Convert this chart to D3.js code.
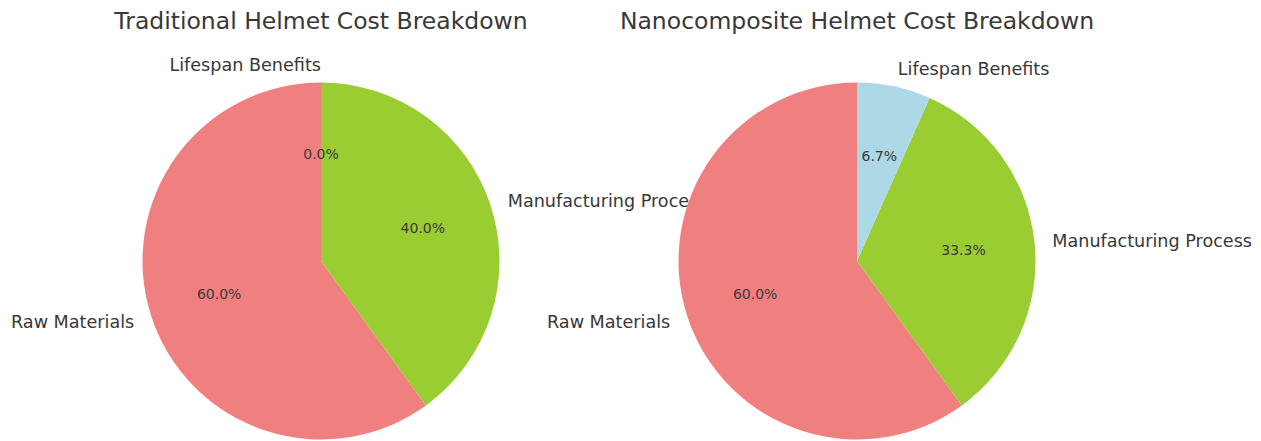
<!DOCTYPE html>
<html>
<head>
<meta charset="utf-8">
<script src="https://cdn.jsdelivr.net/npm/d3@7"></script>
<style>
  html, body { margin: 0; padding: 0; background: #ffffff; }
  svg { display: block; }
  text { font-family: "DejaVu Sans", sans-serif; fill: #383838; }
</style>
</head>
<body>
<svg id="chart" width="1261" height="441"></svg>
<script>
const categories = ["Raw Materials", "Manufacturing Process", "Lifespan Benefits"];
const traditionalValues = [60, 40, 0];
const nanocompositeValues = [90, 50, 10];
const chartTitles = ["Traditional Helmet Cost Breakdown", "Nanocomposite Helmet Cost Breakdown"];
const sliceColors = ["#F08080", "#9ACD32", "#ADD8E6"];

const W = 1261, H = 441;
const svg = d3.select("#chart");
svg.append("rect").attr("width", W).attr("height", H).attr("fill", "#ffffff");

const panels = [
  { title: chartTitles[0], values: traditionalValues, cx: 321, cy: 261 },
  { title: chartTitles[1], values: nanocompositeValues, cx: 857, cy: 261 }
];
const R = 178.5;

const color = d3.scaleOrdinal().domain(categories).range(sliceColors);
const pie = d3.pie().sort(null).value(d => d.value).startAngle(0).endAngle(-2 * Math.PI);
const arc = d3.arc().innerRadius(0).outerRadius(R);
const labelArc = d3.arc().innerRadius(R * 1.1).outerRadius(R * 1.1);
const pctArc = d3.arc().innerRadius(R * 0.6).outerRadius(R * 0.6);
const fmt = d3.format(".1f");

panels.forEach(p => {
  const data = categories.map((c, i) => ({ category: c, value: p.values[i] }));
  const total = d3.sum(p.values);
  const arcs = pie(data);
  const g = svg.append("g").attr("transform", `translate(${p.cx},${p.cy})`);

  g.selectAll("path.slice").data(arcs).enter().append("path")
    .attr("class", "slice")
    .attr("d", arc)
    .attr("fill", d => color(d.data.category));

  g.selectAll("text.label").data(arcs).enter().append("text")
    .attr("class", "label")
    .attr("x", d => labelArc.centroid(d)[0])
    .attr("y", d => labelArc.centroid(d)[1])
    .attr("dy", "0.35em")
    .attr("text-anchor", d => labelArc.centroid(d)[0] > 1e-6 ? "start" : "end")
    .style("font-size", "17.6px")
    .text(d => d.data.category);

  g.selectAll("text.pct").data(arcs).enter().append("text")
    .attr("class", "pct")
    .attr("x", d => pctArc.centroid(d)[0])
    .attr("y", d => pctArc.centroid(d)[1])
    .attr("dy", "0.35em")
    .attr("text-anchor", "middle")
    .style("font-size", "14px")
    .text(d => fmt(d.data.value / total * 100) + "%");

  svg.append("text")
    .attr("x", p.cx)
    .attr("y", 28.5)
    .attr("text-anchor", "middle")
    .style("font-size", "23.5px")
    .text(p.title);
});
</script>
</body>
</html>
